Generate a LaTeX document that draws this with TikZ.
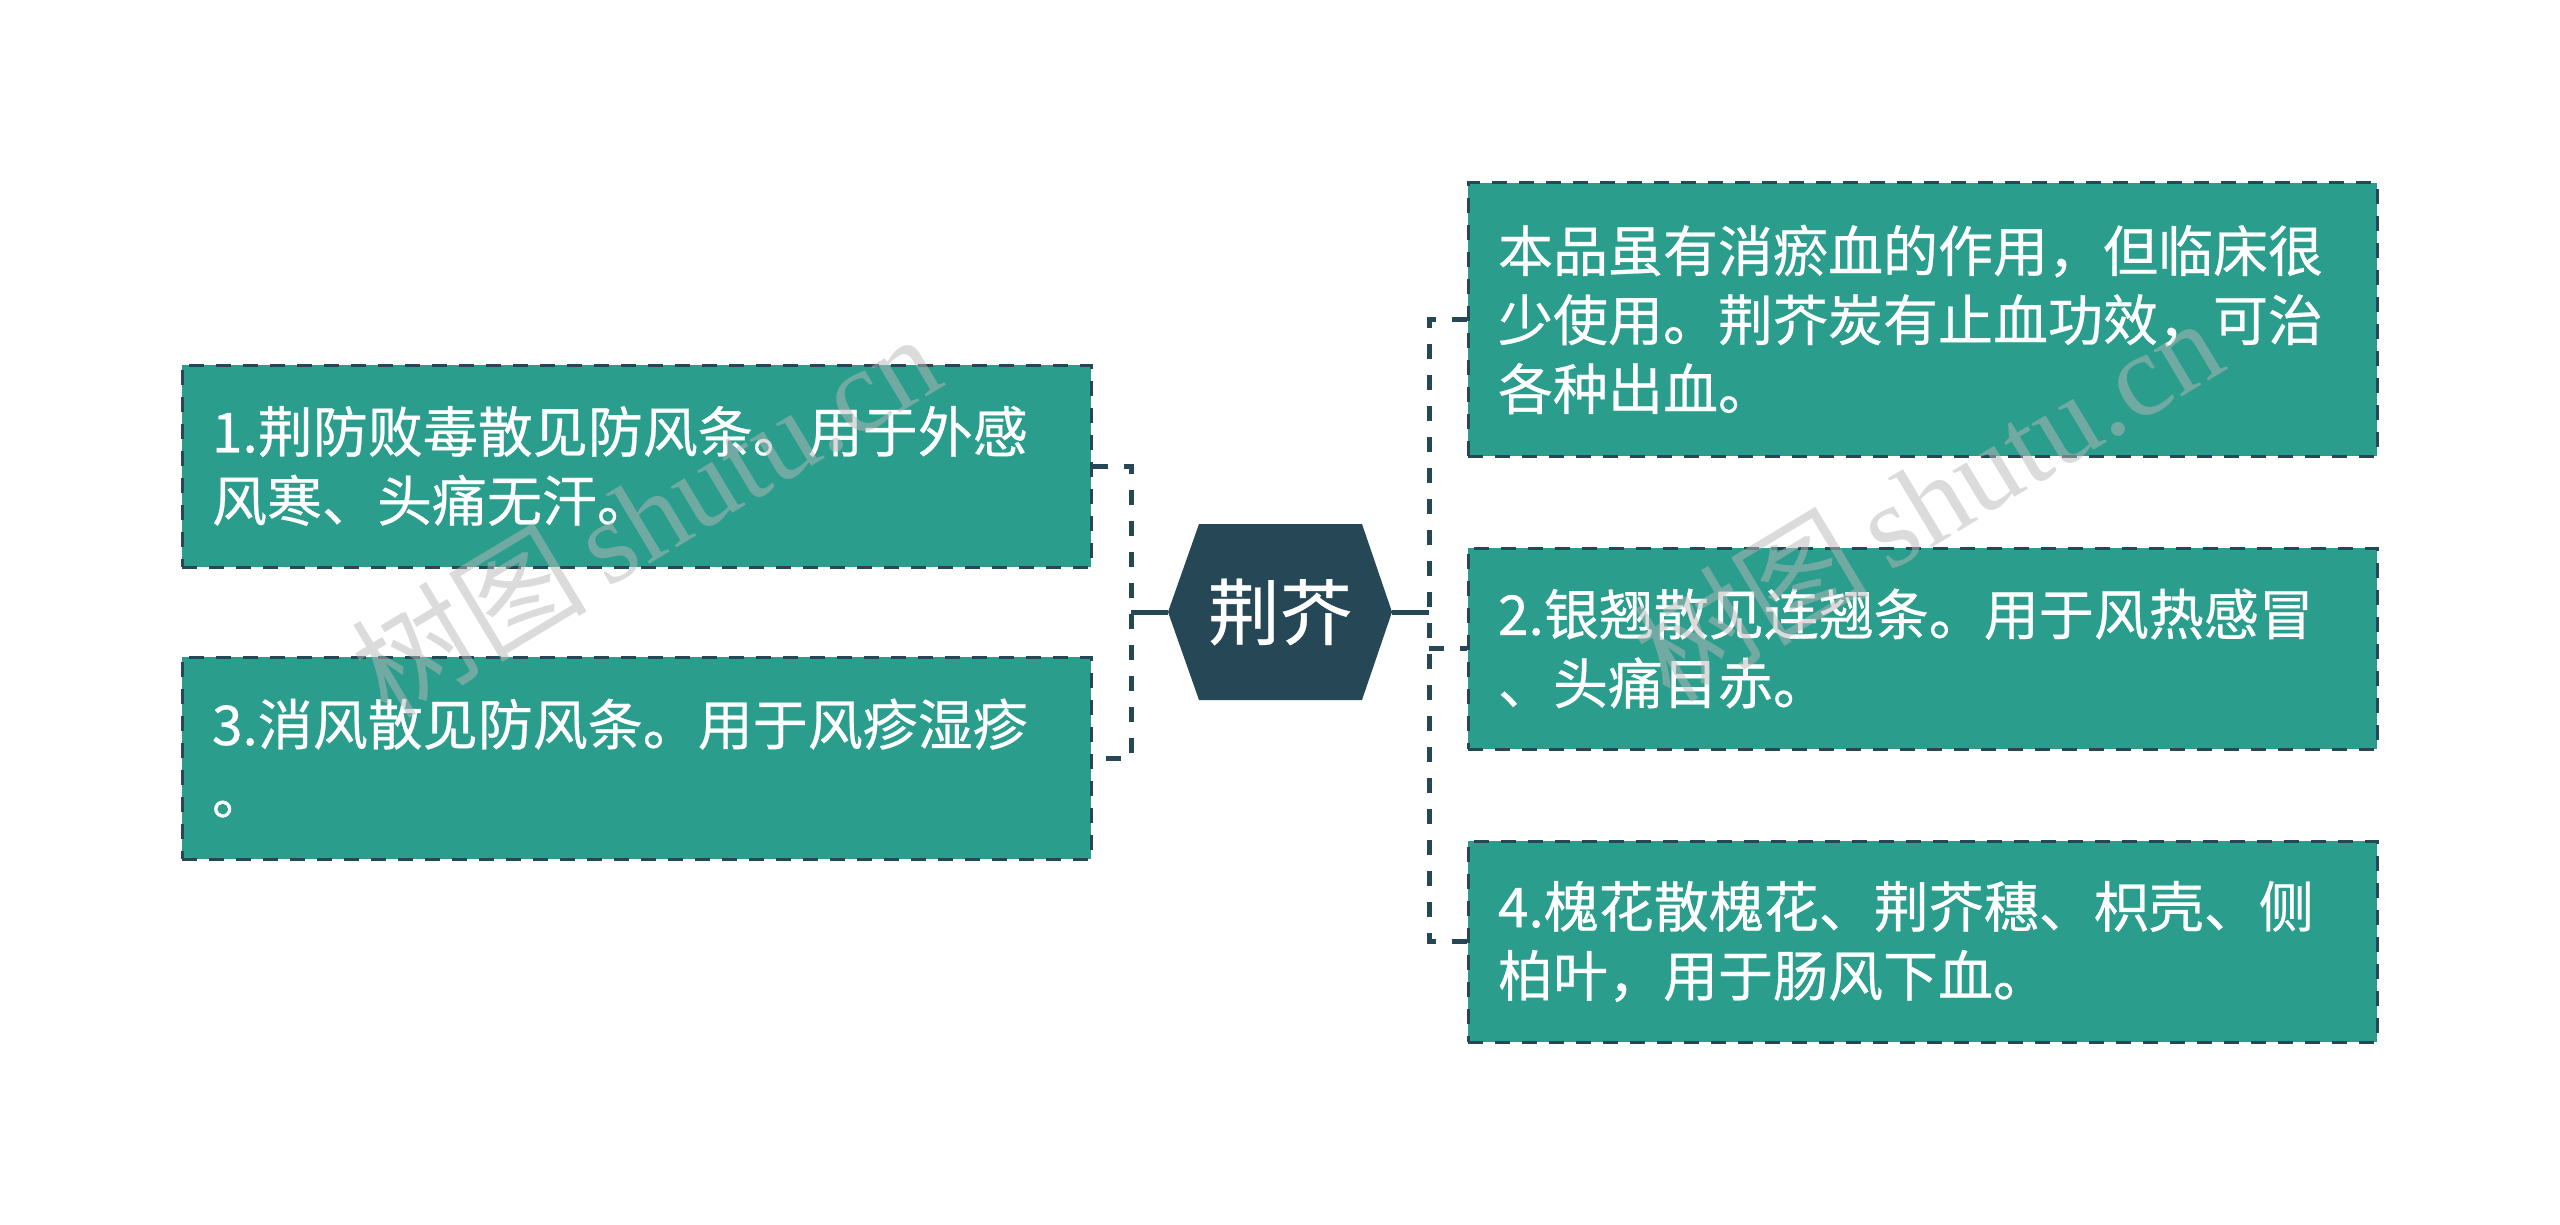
\documentclass[tikz,border=0pt]{standalone}
\usepackage{fontspec}
\setmainfont{Liberation Sans}
\newfontfamily\cjk[FakeBold=0.5]{Noto Sans CJK SC}
\newfontfamily\cjkwm{Noto Sans CJK SC}
\newfontfamily\wmlatin{Liberation Serif}
\definecolor{boxteal}{HTML}{2A9D8C}
\definecolor{darkslate}{HTML}{264856}
\definecolor{wmgray}{HTML}{B8B8B8}
\tikzset{
  leafbox/.style={rectangle, fill=boxteal, draw=darkslate, line width=3pt,
    dash pattern=on 15pt off 12pt, minimum width=909pt, inner xsep=30pt, inner ysep=0pt,
    text width=849pt, align=left, text=white,
    font=\cjk\fontsize{55}{69}\selectfont},
  conn/.style={draw=darkslate, line width=5pt, dash pattern=on 15pt off 16pt},
  stub/.style={draw=darkslate, line width=5pt},
  wmark/.style={text=wmgray, opacity=0.5, rotate=31, font=\fontsize{118}{118}\selectfont}
}
\begin{document}
\begin{tikzpicture}[x=1pt,y=-1pt]
\useasboundingbox[fill=white] (0,0) rectangle (2560,1225);
% central hexagon
\fill[darkslate] (1168,612) -- (1199,524) -- (1362,524) -- (1392,612) -- (1362,700) -- (1199,700) -- cycle;
\node[minimum width=224pt, minimum height=176pt, inner sep=0pt, text=white,
  font=\cjk\fontsize{72}{80}\selectfont] (c) at (1280,612) {荆芥};
% left boxes
\node[leafbox, minimum height=202pt] (b1) at (636.5,466) {1.荆防败毒散见防风条。用于外感\\风寒、头痛无汗。};
\node[leafbox, minimum height=202pt] (b3) at (636.5,758) {3.消风散见防风条。用于风疹湿疹\\。};
% right boxes
\node[leafbox, minimum height=273pt] (bA) at (1922.5,319.5) {本品虽有消瘀血的作用，但临床很\\少使用。荆芥炭有止血功效，可治\\各种出血。};
\node[leafbox, minimum height=201pt] (b2) at (1922.5,648.5) {2.银翘散见连翘条。用于风热感冒\\、头痛目赤。};
\node[leafbox, minimum height=201pt] (b4) at (1922.5,941.5) {4.槐花散槐花、荆芥穗、枳壳、侧\\柏叶，用于肠风下血。};
% junctions
\coordinate (lj) at (1131,612);
\coordinate (rj) at (1429,612);
% left connectors
\draw[stub] (c.west) -- (lj);
\draw[conn] (b1.east) -- (b1.east -| lj) -- (b3.east -| lj) -- (b3.east);
% right connectors
\draw[stub] (c.east) -- (rj);
\draw[conn] (bA.west) -- (bA.west -| rj) -- (b4.west -| rj) -- (b4.west);
\draw[conn] (b2.west -| rj) -- (b2.west);
% watermarks
\node[wmark] (w1) at (645,514) {\cjkwm 树图\,\wmlatin shutu.cn};
\node[wmark] (w2) at (1927,498) {\cjkwm 树图\,\wmlatin shutu.cn};
\end{tikzpicture}
\end{document}
